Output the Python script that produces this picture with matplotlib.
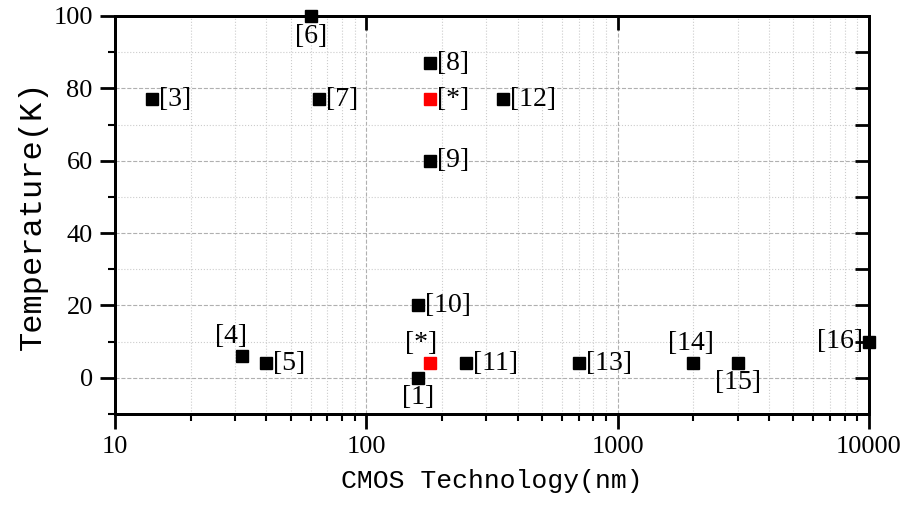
import numpy as np
import matplotlib.pyplot as plt
from matplotlib.ticker import LogLocator, MultipleLocator, FixedFormatter, FixedLocator

# reference points (technology node in nm, temperature in K)
ref_labels = ['[3]', '[6]', '[7]', '[8]', '[12]', '[9]', '[10]', '[4]', '[5]',
              '[1]', '[11]', '[13]', '[14]', '[15]', '[16]']
ref_node = [14, 60, 65, 180, 350, 180, 160, 32, 40, 160, 250, 700, 2000, 3000, 10000]
ref_temp = [77, 100, 77, 87, 77, 60, 20, 6, 4, 0, 4, 4, 4, 4, 10]
# this work
own_labels = ['[*]', '[*]']
own_node = [180, 180]
own_temp = [77, 4]

# where each label sits relative to its marker (points)
ref_offset = {'[6]': (0, -6, 'center', 'top'), '[4]': (-8, 5, 'center', 'bottom'),
              '[1]': (0, -5, 'center', 'top'), '[14]': (-2, 5, 'center', 'bottom'),
              '[15]': (0, -5, 'center', 'top'), '[16]': (-4, 0, 'right', 'center')}
own_offset = [(5, 0, 'left', 'center'), (-7, 5, 'center', 'bottom')]

fig = plt.figure(figsize=(9.06, 5.08), dpi=100)
ax = fig.add_axes([115/906, 1-414/508, 754/906, 398/508])

ax.plot(ref_node, ref_temp, 's', color='black', ms=9, clip_on=False, zorder=3)
ax.plot(own_node, own_temp, 's', color='red', ms=9, clip_on=False, zorder=3)

lab_font = dict(family='Liberation Serif', size=20)
for name, x, y in zip(ref_labels, ref_node, ref_temp):
    dx, dy, ha, va = ref_offset.get(name, (5, 0, 'left', 'center'))
    ax.annotate(name, (x, y), xytext=(dx, dy), textcoords='offset points',
                ha=ha, va=va, annotation_clip=False, **lab_font)
for name, x, y, off in zip(own_labels, own_node, own_temp, own_offset):
    dx, dy, ha, va = off
    ax.annotate(name, (x, y), xytext=(dx, dy), textcoords='offset points',
                ha=ha, va=va, annotation_clip=False, **lab_font)

ax.set_xscale('log')
ax.set_xlim(10, 10000)
ax.set_ylim(-10, 100)

ax.xaxis.set_major_locator(FixedLocator([10, 100, 1000, 10000]))
ax.xaxis.set_major_formatter(FixedFormatter(['10', '100', '1000', '10000']))
ax.xaxis.set_minor_locator(LogLocator(base=10, subs=np.arange(2, 10)))
ax.xaxis.set_minor_formatter(plt.NullFormatter())
ax.yaxis.set_major_locator(MultipleLocator(20))
ax.yaxis.set_minor_locator(MultipleLocator(10))

ax.grid(which='major', ls='--', color='#b0b0b0', lw=0.8)
ax.grid(which='minor', ls=':', color='#cccccc', lw=0.8)
ax.set_axisbelow(True)

for s in ax.spines.values():
    s.set_linewidth(2)
ax.tick_params(which='major', direction='out', length=11, width=2,
               labelsize=19, pad=5)
ax.tick_params(which='minor', direction='out', length=5, width=1.5)
for lab in ax.get_xticklabels() + ax.get_yticklabels():
    lab.set_family('Liberation Serif')

# mirror ticks on top/right, pointing inward
axt = ax.twiny()
axt.set_xscale('log')
axt.set_xlim(ax.get_xlim())
axt.xaxis.set_major_locator(FixedLocator([10, 100, 1000, 10000]))
axt.xaxis.set_minor_locator(plt.NullLocator())
axt.tick_params(direction='in', length=10, width=2, labeltop=False)
axr = ax.twinx()
axr.set_ylim(ax.get_ylim())
axr.yaxis.set_major_locator(MultipleLocator(10))
axr.tick_params(direction='in', length=10, width=2, labelright=False)
for a in (axt, axr):
    for s in a.spines.values():
        s.set_linewidth(2)

ax.set_xlabel('CMOS Technology(nm)', family='Liberation Mono', size=19, labelpad=8)
ax.set_ylabel('Temperature(K)', family='Liberation Mono', size=23, labelpad=4)

fig.savefig('out.png', dpi=100)
